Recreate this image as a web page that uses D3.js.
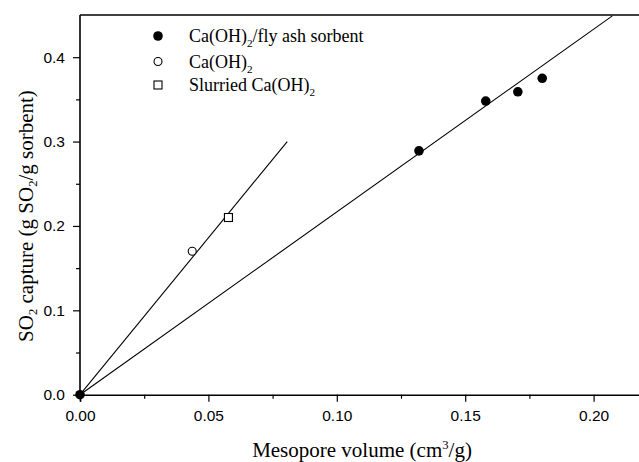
<!DOCTYPE html>
<html>
<head>
<meta charset="utf-8">
<script src="https://cdn.jsdelivr.net/npm/d3@7"></script>
<style>
  body { margin: 0; background: #fff; }
  svg { display: block; }
</style>
</head>
<body>
<div id="chart"></div>
<script>

// Ca(OH)2/fly ash sorbent (filled circles)
var flyAshX = [0.000, 0.132, 0.158, 0.1705, 0.180];
var flyAshY = [0.000, 0.289, 0.348, 0.359, 0.375];

// Ca(OH)2 (open circle)
var caohX = [0.0437];
var caohY = [0.170];

// Slurried Ca(OH)2 (open square)
var slurryX = [0.0578];
var slurryY = [0.210];

// fitted lines through the origin: [x0, y0, x1, y1]
var steepLine = [0, 0, 0.0807, 0.300];
var shallowLine = [0, 0, 0.2073, 0.449];

var xTicks = [0.00, 0.05, 0.10, 0.15, 0.20];
var yTicks = [0.0, 0.1, 0.2, 0.3, 0.4];

var legendLabels = ["Ca(OH)2/fly ash sorbent", "Ca(OH)2", "Slurried Ca(OH)2"];

var width = 639, height = 462;
var plotLeft = 80, plotTop = 15, plotBottom = 394.7;

var svg = d3.select("#chart").append("svg")
  .attr("width", width)
  .attr("height", height);

var x = d3.scaleLinear().domain([0, 0.22]).range([plotLeft, plotLeft + 0.22 * 2568]);
var y = d3.scaleLinear().domain([0, 0.45]).range([plotBottom, plotTop]);

var sans = "Liberation Sans, Arial, sans-serif";
var serif = "Liberation Serif, Times New Roman, serif";

// frame line on top
svg.append("line")
  .attr("x1", plotLeft).attr("x2", width + 5)
  .attr("y1", plotTop).attr("y2", plotTop)
  .attr("stroke", "#000").attr("stroke-width", 1.6);

// x axis
var xAxis = svg.append("g")
  .attr("transform", `translate(0,${plotBottom})`)
  .call(d3.axisBottom(x).tickValues(xTicks).tickFormat(d3.format(".2f")).tickSize(7).tickPadding(8));
xAxis.select(".domain").attr("stroke-width", 1.6);
xAxis.selectAll("text").attr("font-family", sans).attr("font-size", 15.5).attr("fill", "#000");

svg.append("g")
  .attr("transform", `translate(0,${plotBottom})`)
  .call(d3.axisBottom(x).tickValues([0.025, 0.075, 0.125, 0.175, 0.225]).tickSize(4).tickFormat(""))
  .select(".domain").remove();

// y axis
var yAxis = svg.append("g")
  .attr("transform", `translate(${plotLeft},0)`)
  .call(d3.axisLeft(y).tickValues(yTicks).tickFormat(d3.format(".1f")).tickSize(7).tickPadding(8));
yAxis.select(".domain").attr("stroke-width", 1.6).attr("d", `M0,${plotBottom}V${plotTop}`);
yAxis.selectAll("text").attr("font-family", sans).attr("font-size", 15.5).attr("fill", "#000");

svg.append("g")
  .attr("transform", `translate(${plotLeft},0)`)
  .call(d3.axisLeft(y).tickValues([0.05, 0.15, 0.25, 0.35]).tickSize(4).tickFormat(""))
  .select(".domain").remove();

svg.selectAll(".tick line").attr("stroke-width", 1.2);

// fitted lines
[steepLine, shallowLine].forEach(function(l) {
  svg.append("line")
    .attr("x1", x(l[0])).attr("y1", y(l[1]))
    .attr("x2", x(l[2])).attr("y2", y(l[3]))
    .attr("stroke", "#000").attr("stroke-width", 1.1);
});

// points
svg.selectAll(".flyash")
  .data(d3.zip(flyAshX, flyAshY))
  .enter().append("circle")
  .attr("class", "flyash")
  .attr("cx", d => x(d[0])).attr("cy", d => y(d[1]))
  .attr("r", 4.8).attr("fill", "#000");

svg.selectAll(".caoh")
  .data(d3.zip(caohX, caohY))
  .enter().append("circle")
  .attr("class", "caoh")
  .attr("cx", d => x(d[0])).attr("cy", d => y(d[1]))
  .attr("r", 4).attr("fill", "#fff").attr("stroke", "#000").attr("stroke-width", 1.1);

svg.selectAll(".slurry")
  .data(d3.zip(slurryX, slurryY))
  .enter().append("rect")
  .attr("class", "slurry")
  .attr("x", d => x(d[0]) - 4).attr("y", d => y(d[1]) - 4)
  .attr("width", 8).attr("height", 8)
  .attr("fill", "#fff").attr("stroke", "#000").attr("stroke-width", 1.1);

// legend
var legY = [36, 61.5, 85];
var leg = svg.append("g");
leg.append("circle").attr("cx", 158).attr("cy", legY[0]).attr("r", 4.8).attr("fill", "#000");
leg.append("circle").attr("cx", 158).attr("cy", legY[1]).attr("r", 4).attr("fill", "#fff").attr("stroke", "#000").attr("stroke-width", 1.1);
leg.append("rect").attr("x", 154).attr("y", legY[2] - 4).attr("width", 8).attr("height", 8)
  .attr("fill", "#fff").attr("stroke", "#000").attr("stroke-width", 1.1);

function chemText(sel, label) {
  // "(OH)2" gets a subscript 2
  var parts = label.split("(OH)2");
  parts.forEach(function(p, i) {
    var last = i === parts.length - 1;
    sel.append("tspan").attr("dy", i > 0 ? "-0.3em" : null).text(p + (last ? "" : "(OH)"));
    if (!last) {
      sel.append("tspan").attr("font-size", "0.62em").attr("dy", "0.48em").text("2");
    }
  });
}

legendLabels.forEach(function(lab, i) {
  var t = leg.append("text")
    .attr("x", 189).attr("y", legY[i] + 6)
    .attr("font-family", serif).attr("font-size", 18).attr("fill", "#000");
  chemText(t, lab);
});

// axis titles
var xt = svg.append("text")
  .attr("x", 362).attr("y", 457)
  .attr("text-anchor", "middle")
  .attr("font-family", serif).attr("font-size", 21).attr("fill", "#000");
xt.append("tspan").text("Mesopore volume (cm");
xt.append("tspan").attr("font-size", "0.6em").attr("dy", "-0.6em").text("3");
xt.append("tspan").attr("dy", "0.36em").text("/g)");

var yt = svg.append("text")
  .attr("transform", "translate(33,216) rotate(-90)")
  .attr("text-anchor", "middle")
  .attr("font-family", serif).attr("font-size", 21).attr("fill", "#000");
yt.append("tspan").text("SO");
yt.append("tspan").attr("font-size", "0.6em").attr("dy", "0.35em").text("2");
yt.append("tspan").attr("dy", "-0.21em").text(" capture (g SO");
yt.append("tspan").attr("font-size", "0.6em").attr("dy", "0.35em").text("2");
yt.append("tspan").attr("dy", "-0.21em").text("/g sorbent)");

</script>
</body>
</html>
